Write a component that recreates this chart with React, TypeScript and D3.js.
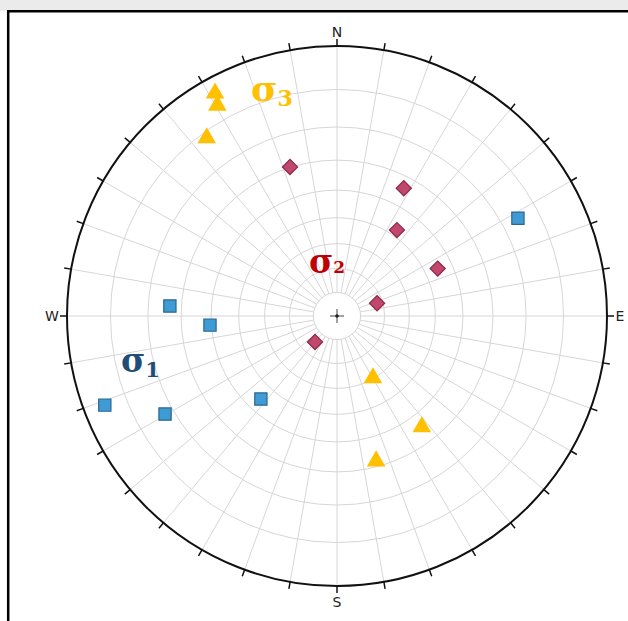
import React from "react";
import * as d3 from "d3";

// σ1 (squares) trend / plunge in degrees
const sigma1Trend = [61.6, 273.4, 265.9, 249.0, 240.3, 222.5];
const sigma1Plunge = [15.4, 26.4, 39.5, 4.7, 17.5, 44.7];
// σ2 (diamonds)
const sigma2Trend = [342.5, 27.6, 34.9, 64.8, 72.4, 220.2];
const sigma2Plunge = [29.9, 33.8, 47.6, 45.2, 72.3, 75.6];
// σ3 (triangles)
const sigma3Trend = [331.3, 330.4, 323.8, 149.9, 142.6, 164.9];
const sigma3Plunge = [3.5, 6.2, 11.5, 60.3, 35.3, 31.8];

const cardinalLabels = ["N", "E", "S", "W"];
const ringAngles = [10, 20, 30, 40, 50, 60, 70, 80];

const W = 628;
const H = 621;
const cx = 337;
const cy = 316;
const R = 270;

const rScale = d3.scaleLinear().domain([0, 1]).range([0, R]);
const rad = (d: number) => (d * Math.PI) / 180;
// equal-angle (Wulff) radius for angle from centre
const radiusFor = (theta: number) => rScale(Math.tan(rad(theta) / 2));
const project = (trend: number, plunge: number) => {
  const r = radiusFor(90 - plunge);
  return [cx + r * Math.sin(rad(trend)), cy - r * Math.cos(rad(trend))];
};

export default function App() {
  const azimuths = d3.range(0, 360, 10);
  const sq = d3.symbol().type(d3.symbolSquare).size(150)() as string;
  const dia = d3.symbol().type(d3.symbolSquare).size(115)() as string;
  const tri = d3.symbol().type(d3.symbolTriangle).size(150)() as string;
  const r10 = radiusFor(10);
  const labelOffsets = [R + 14, R + 13, R + 16, R + 15];

  return (
    <svg
      width={W}
      height={H}
      style={{ position: "absolute", left: 0, top: 0, background: "#fff" }}
    >
      <rect x={0} y={0} width={W} height={11} fill="#ebebeb" />
      <path d={`M8.2,${H} L8.2,11.2 L${W},11.2`} fill="none" stroke="#000" strokeWidth={2.5} />

      {/* grid rings */}
      {ringAngles.map((a) => (
        <circle key={a} cx={cx} cy={cy} r={radiusFor(a)} fill="none" stroke="#d6d6d6" strokeWidth={1} />
      ))}
      {/* radial lines */}
      {azimuths.map((az) => (
        <line
          key={az}
          x1={cx + r10 * Math.sin(rad(az))}
          y1={cy - r10 * Math.cos(rad(az))}
          x2={cx + R * Math.sin(rad(az))}
          y2={cy - R * Math.cos(rad(az))}
          stroke="#d6d6d6"
          strokeWidth={1}
        />
      ))}

      {/* outer circle */}
      <circle cx={cx} cy={cy} r={R} fill="none" stroke="#111" strokeWidth={2} />
      {azimuths.map((az) => (
        <line
          key={"t" + az}
          x1={cx + R * Math.sin(rad(az))}
          y1={cy - R * Math.cos(rad(az))}
          x2={cx + (R + 7) * Math.sin(rad(az))}
          y2={cy - (R + 7) * Math.cos(rad(az))}
          stroke="#111"
          strokeWidth={1.5}
        />
      ))}
      {cardinalLabels.map((l, i) => {
        const az = i * 90;
        const rr = labelOffsets[i];
        return (
          <text
            key={l}
            x={cx + rr * Math.sin(rad(az))}
            y={cy - rr * Math.cos(rad(az))}
            textAnchor="middle"
            dominantBaseline="central"
            fontFamily="DejaVu Sans, Verdana, sans-serif"
            fontSize={14}
            fill="#222"
          >
            {l}
          </text>
        );
      })}

      {/* centre cross */}
      <line x1={cx - 7} y1={cy} x2={cx + 7} y2={cy} stroke="#444" strokeWidth={1} />
      <line x1={cx} y1={cy - 7} x2={cx} y2={cy + 7} stroke="#444" strokeWidth={1} />
      <circle cx={cx} cy={cy} r={1.8} fill="#222" />

      {/* σ3 triangles */}
      {sigma3Trend.map((t, i) => {
        const [x, y] = project(t, sigma3Plunge[i]);
        return <path key={"s3" + i} d={tri} transform={`translate(${x},${y})`} fill="#FFC000" />;
      })}
      {/* σ1 squares */}
      {sigma1Trend.map((t, i) => {
        const [x, y] = project(t, sigma1Plunge[i]);
        return (
          <path
            key={"s1" + i}
            d={sq}
            transform={`translate(${x},${y})`}
            fill="#3F9BD3"
            stroke="#2A6690"
            strokeWidth={1.2}
          />
        );
      })}
      {/* σ2 diamonds */}
      {sigma2Trend.map((t, i) => {
        const [x, y] = project(t, sigma2Plunge[i]);
        return (
          <path
            key={"s2" + i}
            d={dia}
            transform={`translate(${x},${y}) rotate(45)`}
            fill="#C2476C"
            stroke="#8C2747"
            strokeWidth={1.2}
          />
        );
      })}

      {/* labels */}
      <text x={251} y={101} fontFamily="DejaVu Serif, serif" fontWeight="bold" fill="#FFC000" fontSize={36}>
        σ<tspan fontSize={22} dy={5}>3</tspan>
      </text>
      <text x={309} y={273} fontFamily="DejaVu Serif, serif" fontWeight="bold" fill="#C00000" fontSize={33}>
        σ<tspan fontSize={17}>2</tspan>
      </text>
      <text x={121} y={372} fontFamily="DejaVu Serif, serif" fontWeight="bold" fill="#1F4E79" fontSize={33}>
        σ<tspan fontSize={21} dy={5}>1</tspan>
      </text>
    </svg>
  );
}
